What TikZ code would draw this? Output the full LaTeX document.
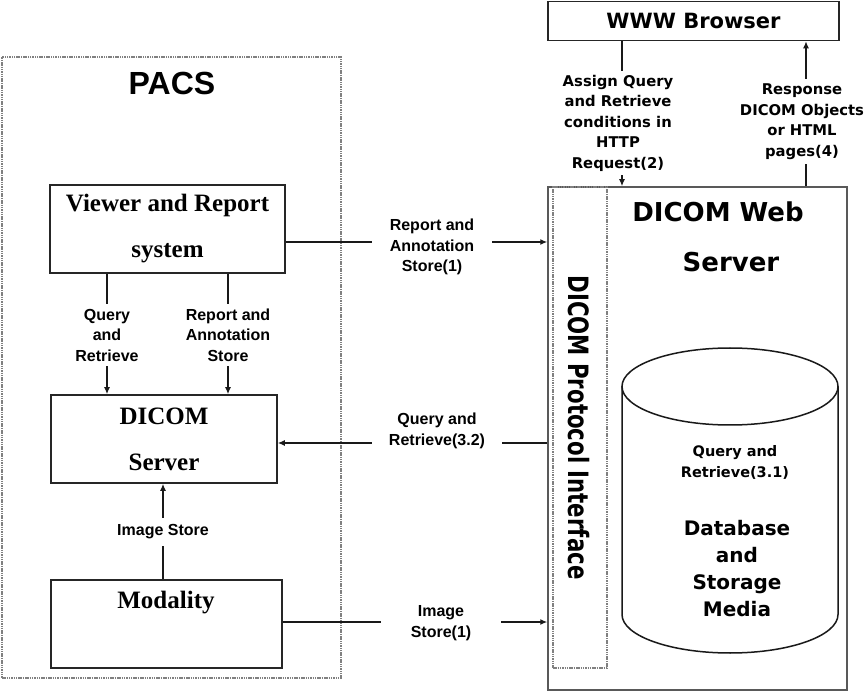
\documentclass[tikz,border=0pt]{standalone}
\usepackage{fontspec}
\usepackage{graphicx}
\setmainfont{Liberation Serif}
\newfontfamily\arialf{Liberation Sans}
\newfontfamily\verdf{DejaVu Sans}
\usetikzlibrary{arrows.meta}
\begin{document}
\begin{tikzpicture}[x=1pt,y=-1pt,
 box/.style={draw=black!85, line width=1.6pt, inner sep=0pt},
 dotbox/.style={draw=black!50, line width=1.1pt, dash pattern=on 1.5pt off 0.8pt, inner sep=0pt},
 serift/.style={font=\bfseries\fontsize{25}{46}\selectfont, align=center},
 lbl/.style={font=\arialf\bfseries\fontsize{16}{20.5}\selectfont, align=center, fill=white, inner xsep=2pt, inner ysep=2pt},
 vlbl/.style={font=\verdf\bfseries\fontsize{14.8}{20.5}\selectfont, align=center, fill=white, inner xsep=2pt},
 conn/.style={line width=1.3pt, draw=black!90},
 arr/.style={conn, -{Latex[length=7pt,width=6pt]}},
 cyl/.style={line width=1.5pt, draw=black!90},
]
\useasboundingbox (0,0) rectangle (865,692);
\fill[white] (0,0) rectangle (865,692);

% PACS side
\node[dotbox, minimum width=339pt, minimum height=621pt] (pacs) at (171.5,367.5) {};
\node[font=\arialf\bfseries\fontsize{32}{38}\selectfont] (pacsT) at (172,83) {PACS};
\node[box, minimum width=235pt, minimum height=88pt, serift] (viewer) at (167.5,229) {Viewer and Report\\system};
\node[box, minimum width=226pt, minimum height=88pt, serift] (dserver) at (164,439) {DICOM\\Server};
\node[box, minimum width=231pt, minimum height=88pt] (modality) at (166.5,624) {};
\node[serift] (modT) at (166,603) {Modality};

% DICOM Web server side
\node[draw=black!65, line width=1.5pt, minimum width=299pt, minimum height=503pt, inner sep=0pt] (web) at (697.5,438.5) {};
\node[dotbox, minimum width=54pt, minimum height=481pt] (proto) at (580,427.5) {};
\node[rotate=-90, font=\verdf\bfseries\fontsize{28}{30}\selectfont] (protoT) at (579,427.5) {\scalebox{0.76}[1]{DICOM Protocol Interface}};
\node[font=\verdf\bfseries\fontsize{26}{30}\selectfont] (webT1) at (718,212) {DICOM Web};
\node[font=\verdf\bfseries\fontsize{26}{30}\selectfont] (webT2) at (731,262) {Server};

% cylinder
\draw[cyl] (730,386.5) ellipse [x radius=108pt, y radius=38.5pt];
\draw[cyl] (622,386.5) -- (622,614.5) arc[start angle=180, end angle=360, x radius=108pt, y radius=38.5pt] -- (838,386.5);
\node[font=\verdf\bfseries\fontsize{14.5}{21}\selectfont, align=center] (cylT1) at (735,462.5) {Query and\\Retrieve(3.1)};
\node[font=\verdf\bfseries\fontsize{20}{27}\selectfont, align=center] (cylT2) at (737,568.5) {Database\\and\\Storage\\Media};

% browser
\node[box, minimum width=291pt, minimum height=39pt, font=\verdf\bfseries\fontsize{21}{24}\selectfont] (browser) at (693.5,21) {WWW Browser};

% helper coordinates
\coordinate (cA) at (107,0);
\coordinate (cB) at (228,0);
\coordinate (cC) at (163,0);
\coordinate (cD) at (622,0);
\coordinate (cE) at (806,0);
\coordinate (rA) at (0,242);
\coordinate (rB) at (0,443);
\coordinate (rC) at (0,622);

% connectors
\draw[arr] (viewer.south -| cA) -- (dserver.north -| cA);
\draw[arr] (viewer.south -| cB) -- (dserver.north -| cB);
\draw[arr] (modality.north -| cC) -- (dserver.south -| cC);
\draw[arr] (viewer.east |- rA) -- (web.west |- rA);
\draw[arr] (web.west |- rB) -- (dserver.east |- rB);
\draw[arr] (modality.east |- rC) -- (web.west |- rC);
\draw[arr] (browser.south -| cD) -- (web.north -| cD);
\draw[arr] (web.north -| cE) -- (browser.south -| cE);

% labels
\node[lbl, inner xsep=18pt] (lRA) at (432,247) {Report and\\Annotation\\Store(1)};
\node[lbl, inner xsep=17pt] (lQR32) at (437,431) {Query and\\Retrieve(3.2)};
\node[lbl, inner xsep=30pt] (lIS1) at (441,623) {Image\\Store(1)};
\node[lbl, inner ysep=5pt] (lQR) at (107,335) {Query\\and\\Retrieve};
\node[lbl, inner ysep=5pt] (lRAS) at (228,335) {Report and\\Annotation\\Store};
\node[lbl, inner ysep=7pt] (lIS) at (163,532) {Image Store};
\node[vlbl, inner ysep=4pt] (lBL) at (618,123) {Assign Query\\and Retrieve\\conditions in\\HTTP\\Request(2)};
\node[vlbl, inner ysep=5pt] (lBR) at (802,121.5) {Response\\DICOM Objects\\or HTML\\pages(4)};
\end{tikzpicture}
\end{document}
